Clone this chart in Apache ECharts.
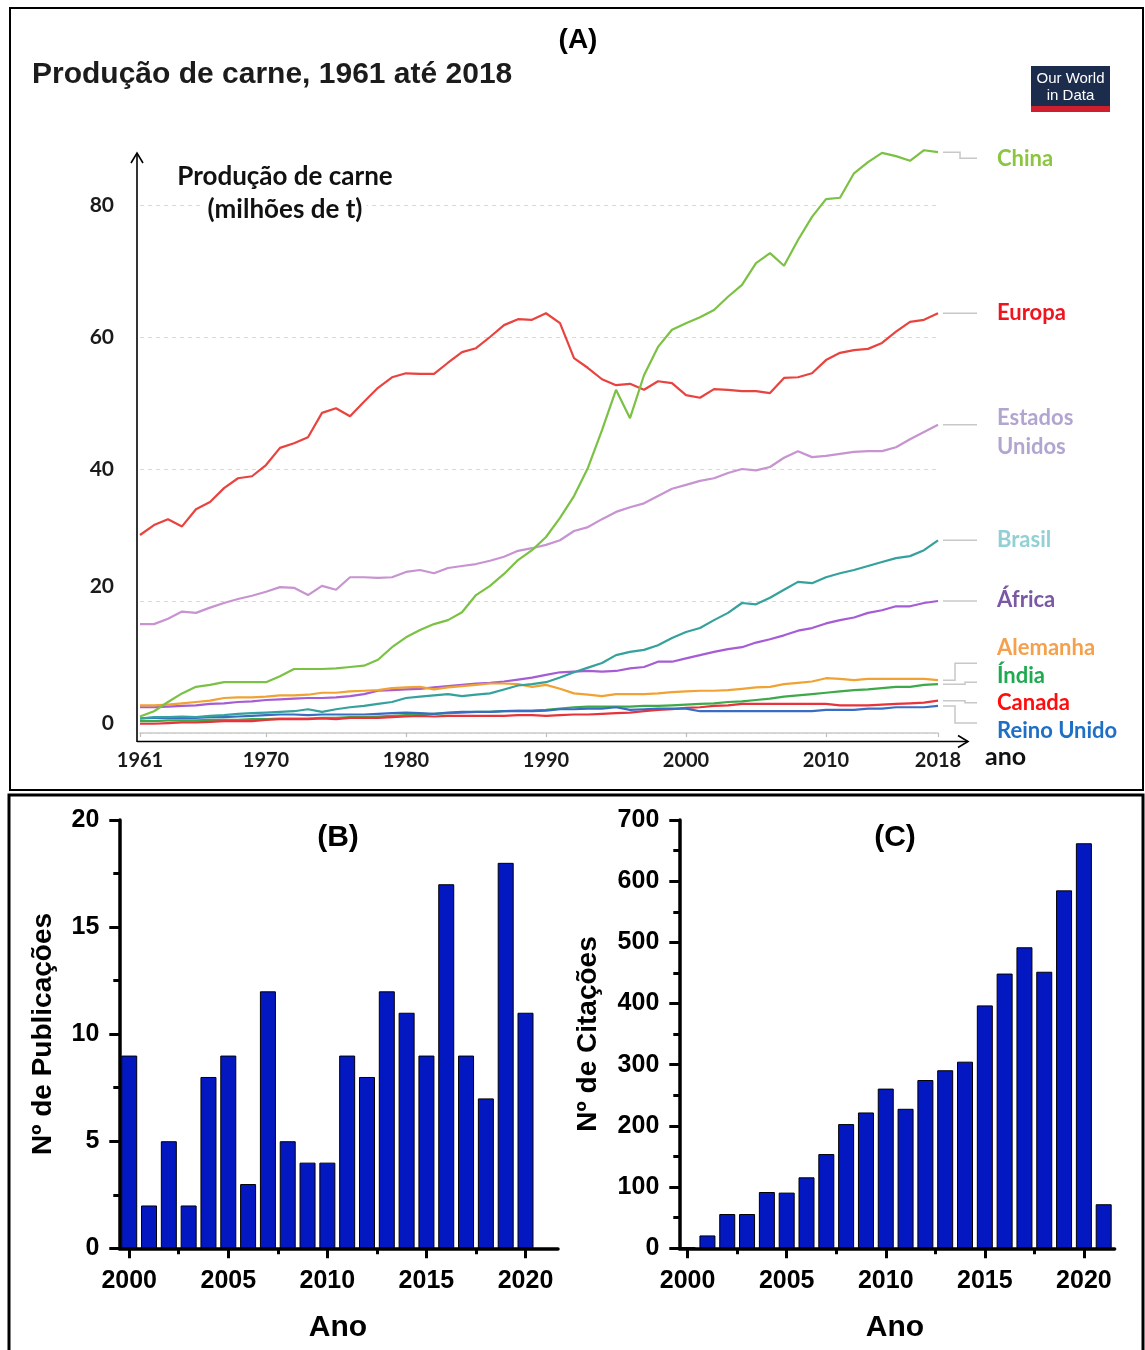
<!DOCTYPE html>
<html>
<head>
<meta charset="utf-8">
<script src="https://cdn.jsdelivr.net/npm/echarts@6/dist/echarts.min.js"></script>
<style>
  html, body { margin: 0; padding: 0; background: #fff; }
  #chart { width: 1145px; height: 1350px; }
</style>
</head>
<body>
<div id="chart"></div>
<script>
// ---------- (A) meat production, million tonnes, 1961-2018 ----------
const years = [];
for (let y = 1961; y <= 2018; y++) years.push(y);

const china = [2.5, 3.3, 4.7, 6.0, 7.0, 7.3, 7.7, 7.7, 7.7, 7.7,
  8.6, 9.7, 9.7, 9.7, 9.8, 10.0, 10.2, 11.1, 13.0, 14.5,
  15.6, 16.5, 17.1, 18.3, 20.9, 22.3, 24.1, 26.2, 27.7, 29.7,
  32.6, 35.9, 40.2, 45.9, 52.0, 47.7, 54.2, 58.5, 61.1, 62.1,
  63.0, 64.1, 66.1, 67.9, 71.2, 72.7, 70.8, 74.7, 78.2, 80.9,
  81.1, 84.8, 86.5, 87.9, 87.4, 86.7, 88.3, 88.0];
const europa = [30.0, 31.5, 32.4, 31.3, 33.9, 35.0, 37.1, 38.6, 38.9, 40.6,
  43.2, 43.9, 44.8, 48.5, 49.2, 48.0, 50.2, 52.3, 53.9, 54.5,
  54.4, 54.4, 56.1, 57.7, 58.3, 60.0, 61.8, 62.7, 62.6, 63.6,
  62.1, 56.8, 55.3, 53.6, 52.7, 52.9, 52.0, 53.3, 53.0, 51.2,
  50.8, 52.1, 52.0, 51.8, 51.8, 51.5, 53.8, 53.9, 54.5, 56.5,
  57.6, 58.0, 58.2, 59.1, 60.8, 62.3, 62.6, 63.6];
const estadosUnidos = [16.5, 16.5, 17.3, 18.4, 18.2, 19.0, 19.7, 20.3, 20.8, 21.4,
  22.1, 22.0, 20.9, 22.3, 21.7, 23.6, 23.6, 23.5, 23.6, 24.4,
  24.7, 24.2, 25.0, 25.3, 25.6, 26.1, 26.7, 27.6, 28.0, 28.5,
  29.2, 30.6, 31.2, 32.4, 33.5, 34.2, 34.8, 35.9, 37.0, 37.6,
  38.2, 38.6, 39.4, 40.0, 39.8, 40.3, 41.7, 42.7, 41.8, 42.0,
  42.3, 42.6, 42.7, 42.7, 43.3, 44.5, 45.6, 46.7];
const brasil = [2.2, 2.4, 2.4, 2.5, 2.4, 2.6, 2.7, 2.9, 3.0, 3.1,
  3.2, 3.3, 3.6, 3.2, 3.6, 3.9, 4.1, 4.4, 4.7, 5.3,
  5.5, 5.7, 5.9, 5.6, 5.8, 6.0, 6.6, 7.2, 7.4, 7.7,
  8.4, 9.2, 9.9, 10.6, 11.8, 12.3, 12.6, 13.3, 14.4, 15.3,
  15.9, 17.1, 18.2, 19.7, 19.5, 20.5, 21.7, 22.9, 22.7, 23.6,
  24.2, 24.7, 25.3, 25.9, 26.5, 26.8, 27.7, 29.2];
const africa = [3.9, 3.9, 4.0, 4.1, 4.2, 4.4, 4.5, 4.7, 4.8, 5.0,
  5.1, 5.2, 5.3, 5.3, 5.4, 5.6, 5.9, 6.4, 6.5, 6.6,
  6.7, 6.9, 7.1, 7.3, 7.5, 7.6, 7.8, 8.1, 8.4, 8.8,
  9.2, 9.3, 9.4, 9.3, 9.4, 9.8, 10.0, 10.8, 10.8, 11.3,
  11.8, 12.3, 12.7, 13.0, 13.7, 14.2, 14.8, 15.5, 15.9, 16.6,
  17.1, 17.5, 18.2, 18.6, 19.2, 19.2, 19.7, 20.0];
const alemanha = [4.2, 4.2, 4.3, 4.5, 4.7, 4.9, 5.3, 5.4, 5.4, 5.5,
  5.7, 5.7, 5.8, 6.1, 6.1, 6.3, 6.4, 6.5, 6.8, 6.9,
  7.0, 6.6, 6.9, 7.1, 7.3, 7.5, 7.5, 7.4, 7.0, 7.3,
  6.7, 6.0, 5.8, 5.6, 5.9, 5.9, 5.9, 6.0, 6.2, 6.3,
  6.4, 6.4, 6.5, 6.7, 6.9, 7.0, 7.4, 7.6, 7.8, 8.3,
  8.2, 8.0, 8.2, 8.2, 8.2, 8.2, 8.2, 8.0];
const india = [1.8, 1.8, 1.9, 1.9, 1.9, 2.0, 2.0, 2.0, 2.1, 2.1,
  2.2, 2.2, 2.2, 2.3, 2.3, 2.4, 2.4, 2.5, 2.6, 2.7,
  2.8, 2.9, 3.0, 3.1, 3.2, 3.2, 3.3, 3.4, 3.4, 3.5,
  3.7, 3.9, 4.0, 4.0, 4.0, 4.0, 4.1, 4.1, 4.2, 4.3,
  4.4, 4.5, 4.7, 4.8, 5.0, 5.2, 5.5, 5.7, 5.9, 6.1,
  6.3, 6.5, 6.6, 6.8, 7.0, 7.0, 7.3, 7.4];
const canada = [1.4, 1.4, 1.5, 1.6, 1.6, 1.7, 1.8, 1.8, 1.8, 2.0,
  2.1, 2.1, 2.1, 2.2, 2.1, 2.3, 2.3, 2.3, 2.4, 2.5,
  2.6, 2.5, 2.6, 2.6, 2.6, 2.6, 2.6, 2.7, 2.7, 2.6,
  2.7, 2.8, 2.8, 2.9, 3.0, 3.1, 3.3, 3.5, 3.6, 3.8,
  3.9, 4.1, 4.2, 4.4, 4.4, 4.4, 4.4, 4.4, 4.4, 4.4,
  4.2, 4.2, 4.2, 4.3, 4.4, 4.5, 4.6, 4.9];
const reinoUnido = [2.2, 2.3, 2.3, 2.3, 2.3, 2.4, 2.4, 2.5, 2.6, 2.7,
  2.8, 2.8, 2.7, 2.8, 2.8, 2.8, 2.8, 2.9, 3.0, 3.1,
  3.0, 2.9, 3.1, 3.2, 3.2, 3.2, 3.3, 3.3, 3.3, 3.4,
  3.6, 3.6, 3.7, 3.7, 3.9, 3.5, 3.6, 3.7, 3.7, 3.7,
  3.3, 3.3, 3.3, 3.3, 3.3, 3.3, 3.3, 3.3, 3.3, 3.5,
  3.5, 3.5, 3.7, 3.7, 3.9, 3.9, 3.9, 4.1];

const yearTicksA = [1961, 1970, 1980, 1990, 2000, 2010, 2018];

// ---------- (B) publications per year ----------
const pubYears = [2000, 2001, 2002, 2003, 2004, 2005, 2006, 2007, 2008, 2009, 2010,
  2011, 2012, 2013, 2014, 2015, 2016, 2017, 2018, 2019, 2020];
const publicacoes = [9, 2, 5, 2, 8, 9, 3, 12, 5, 4, 4, 9, 8, 12, 11, 9, 17, 9, 7, 18, 11];

// ---------- (C) citations per year ----------
const citYears = [2000, 2001, 2002, 2003, 2004, 2005, 2006, 2007, 2008, 2009, 2010,
  2011, 2012, 2013, 2014, 2015, 2016, 2017, 2018, 2019, 2020, 2021];
const citacoes = [2, 21, 56, 56, 92, 91, 116, 154, 203, 222, 261, 228, 275, 291, 305,
  397, 449, 492, 452, 585, 662, 72];

const yearTicksBC = [2000, 2005, 2010, 2015, 2020];
const yearMinorBC = [2002.5, 2007.5, 2012.5, 2017.5];

// line styling and end-label layout for panel A
const lineDefs = [
  { label: 'África', values: africa, line: '#a55cd4', text: '#7a58a6', bend: 22, lead: 0, dy: -1 },
  { label: 'Alemanha', values: alemanha, line: '#f0a232', text: '#f5a04c', bend: 17, lead: -17, dy: -32 },
  { label: 'Índia', values: india, line: '#3da94a', text: '#1eaa50', bend: 27, lead: -2, dy: -8 },
  { label: 'Canada', values: canada, line: '#e8333b', text: '#ff0d0d', bend: 27, lead: 2, dy: 2 },
  { label: 'Reino Unido', values: reinoUnido, line: '#3a6cc4', text: '#1f6fc5', bend: 17, lead: 17, dy: 25 },
  { label: 'Brasil', values: brasil, line: '#35a19c', text: '#92d0d6', bend: 22, lead: 0, dy: 0 },
  { label: 'Estados\nUnidos', values: estadosUnidos, line: '#c793d0', text: '#b2a5cf', bend: 22, lead: 0, dy: 8 },
  { label: 'Europa', values: europa, line: '#e8433e', text: '#f0141e', bend: 22, lead: 0, dy: 0 },
  { label: 'China', values: china, line: '#7bc144', text: '#8cc640', bend: 22, lead: 6, dy: 7 }
];

const gothic = 'Lato, "DejaVu Sans", sans-serif';
const arial = '"Liberation Sans", Arial, sans-serif';
const plainYear = v => String(v);

const lineSeries = lineDefs.map(d => ({
  type: 'line',
  xAxisIndex: 0, yAxisIndex: 0,
  data: years.map((y, i) => [y, d.values[i]]),
  showSymbol: false,
  clip: false,
  silent: true,
  lineStyle: { color: d.line, width: 2.2 },
  itemStyle: { color: d.line }
}));

const leaderSeries = {
  type: 'custom',
  coordinateSystem: 'cartesian2d',
  xAxisIndex: 0, yAxisIndex: 0,
  clip: false,
  silent: true,
  data: lineDefs.map((d, i) => [years[years.length - 1], d.values[d.values.length - 1], i]),
  renderItem: function (params, api) {
    const d = lineDefs[api.value(2)];
    const p = api.coord([api.value(0), api.value(1)]);
    const x0 = p[0], y0 = p[1];
    return {
      type: 'group',
      children: [
        {
          type: 'polyline',
          shape: { points: [[x0 + 5, y0], [x0 + d.bend, y0], [x0 + d.bend, y0 + d.lead], [x0 + 39, y0 + d.lead]] },
          style: { stroke: '#c8c8c8', lineWidth: 1.5, fill: null }
        },
        {
          type: 'text',
          x: x0 + 59, y: y0 + d.dy,
          style: {
            text: d.label, fill: d.text, font: 'bold 22px ' + gothic,
            align: 'left', verticalAlign: 'middle', lineHeight: 29
          }
        }
      ]
    };
  }
};

const barStyle = { color: '#0418c2', borderColor: '#000', borderWidth: 1 };

const bcValueX = (min, max, grid) => ({
  type: 'value', gridIndex: grid, position: 'bottom', min: min, max: max,
  axisLine: { show: true, onZero: false, lineStyle: { color: '#000', width: 3.5 } },
  axisTick: { show: true, customValues: yearTicksBC, length: 10, lineStyle: { color: '#000', width: 3 } },
  axisLabel: { customValues: yearTicksBC, formatter: plainYear, margin: 20, color: '#000', fontFamily: arial, fontWeight: 'bold', fontSize: 25 },
  splitLine: { show: false }
});
const bcMinorX = (min, max, grid) => ({
  type: 'value', gridIndex: grid, position: 'bottom', min: min, max: max,
  axisLine: { show: false, onZero: false },
  axisTick: { show: true, customValues: yearMinorBC, length: 6, lineStyle: { color: '#000', width: 3 } },
  axisLabel: { show: false },
  splitLine: { show: false }
});
const bcValueY = (max, interval, grid) => ({
  type: 'value', gridIndex: grid, min: 0, max: max, interval: interval,
  axisLine: { show: true, onZero: false, lineStyle: { color: '#000', width: 3.5 } },
  axisTick: { show: true, length: 10, lineStyle: { color: '#000', width: 3 } },
  minorTick: { show: true, splitNumber: 2, length: 6, lineStyle: { color: '#000', width: 3 } },
  axisLabel: { margin: 20, color: '#000', fontFamily: arial, fontWeight: 'bold', fontSize: 25 },
  splitLine: { show: false },
  minorSplitLine: { show: false }
});

const txt = (x, y, text, font, fill, align, extra) => Object.assign({
  type: 'text', x: x, y: y, silent: true,
  style: { text: text, font: font, fill: fill || '#000', align: align || 'center', verticalAlign: 'middle' }
}, extra || {});

const option = {
  animation: false,
  backgroundColor: '#fff',
  grid: [
    { left: 140, top: 205, width: 798, height: 528 },
    { left: 119.3, top: 820, width: 438.7, height: 428.3 },
    { left: 679.3, top: 820, width: 435.3, height: 428.3 }
  ],
  xAxis: [
    {
      type: 'value', gridIndex: 0, min: 1961, max: 2018,
      axisLine: { show: true, lineStyle: { color: '#cccccc', width: 1.5 } },
      axisTick: { show: true, customValues: yearTicksA, length: 4, lineStyle: { color: '#bdbdbd', width: 1.2 } },
      axisLabel: { customValues: yearTicksA, formatter: plainYear, margin: 18, color: '#1a1a1a', fontFamily: gothic, fontWeight: 'bold', fontSize: 20 },
      splitLine: { show: false }
    },
    bcValueX(1999.5, 2021.64, 1),
    bcMinorX(1999.5, 2021.64, 1),
    bcValueX(1999.58, 2021.55, 2),
    bcMinorX(1999.58, 2021.55, 2)
  ],
  yAxis: [
    {
      type: 'value', gridIndex: 0, min: 0, max: 80, interval: 20,
      axisLine: { show: false }, axisTick: { show: false },
      splitLine: { lineStyle: { color: '#d9d9d9', type: [4, 4], width: 1 } },
      axisLabel: {
        margin: 26, color: '#1a1a1a',
        formatter: v => v === 20 ? '{up|20}' : (v === 0 ? '{low|0}' : '{n|' + v + '}'),
        rich: {
          n: { fontFamily: gothic, fontWeight: 'bold', fontSize: 21, color: '#1a1a1a' },
          up: { fontFamily: gothic, fontWeight: 'bold', fontSize: 21, color: '#1a1a1a', padding: [0, 0, 30, 0] },
          low: { fontFamily: gothic, fontWeight: 'bold', fontSize: 21, color: '#1a1a1a', padding: [0, 0, 20, 0] }
        }
      }
    },
    bcValueY(20, 5, 1),
    bcValueY(700, 100, 2)
  ],
  series: lineSeries.concat([
    leaderSeries,
    {
      type: 'bar', xAxisIndex: 1, yAxisIndex: 1, barWidth: 16, silent: true,
      data: pubYears.map((y, i) => [y, publicacoes[i]]),
      itemStyle: barStyle
    },
    {
      type: 'bar', xAxisIndex: 3, yAxisIndex: 2, barWidth: 16, silent: true,
      data: citYears.map((y, i) => [y, citacoes[i]]),
      itemStyle: barStyle
    }
  ]),
  graphic: [
    // panel frames
    { type: 'rect', silent: true, shape: { x: 10, y: 8, width: 1133, height: 782 }, style: { fill: null, stroke: '#000', lineWidth: 2 } },
    { type: 'rect', silent: true, shape: { x: 9, y: 795, width: 1134, height: 570 }, style: { fill: null, stroke: '#000', lineWidth: 3 } },

    // panel A header
    txt(578, 40, '(A)', 'bold 28px ' + arial),
    txt(32, 75, 'Produção de carne, 1961 até 2018', 'bold 30px ' + arial, '#1c1c1c', 'left'),
    { type: 'rect', silent: true, shape: { x: 1031, y: 66, width: 79, height: 46 }, style: { fill: '#1b2c4d' } },
    { type: 'rect', silent: true, shape: { x: 1031, y: 106, width: 79, height: 6 }, style: { fill: '#cf1f2f' } },
    txt(1070.5, 79, 'Our World', '15px ' + arial, '#fff'),
    txt(1070.5, 96, 'in Data', '15px ' + arial, '#fff'),

    // panel A axis title (on a white box over the grid) and arrow axes
    txt(285, 177, 'Produção de carne', 'bold 26px ' + gothic, '#111', 'center', { z: 10 }),
    { type: 'text', x: 285, y: 210, z: 10, silent: true,
      style: { text: '(milhões de t)', font: 'bold 26px ' + gothic, fill: '#111', align: 'center', verticalAlign: 'middle', backgroundColor: '#fff', padding: [0, 4] } },
    { type: 'polyline', silent: true, shape: { points: [[137, 742], [137, 153]] }, style: { stroke: '#000', lineWidth: 1.6, fill: null } },
    { type: 'polyline', silent: true, shape: { points: [[131, 163], [137, 153], [143, 163]] }, style: { stroke: '#000', lineWidth: 1.6, fill: null } },
    { type: 'polyline', silent: true, shape: { points: [[137, 741.5], [968, 741.5]] }, style: { stroke: '#000', lineWidth: 1.6, fill: null } },
    { type: 'polyline', silent: true, shape: { points: [[958, 735.5], [968, 741.5], [958, 747.5]] }, style: { stroke: '#000', lineWidth: 1.6, fill: null } },
    txt(985, 757, 'ano', 'bold 25px ' + gothic, '#111', 'left'),

    // panels B and C titles
    txt(338, 838, '(B)', 'bold 30px ' + arial),
    txt(895, 838, '(C)', 'bold 30px ' + arial),
    txt(338, 1328, 'Ano', 'bold 30px ' + arial),
    txt(895, 1328, 'Ano', 'bold 30px ' + arial),
    txt(43, 1034, 'Nº de Publicações', 'bold 28px ' + arial, '#000', 'center', { rotation: Math.PI / 2 }),
    txt(588, 1034, 'Nº de Citações', 'bold 28px ' + arial, '#000', 'center', { rotation: Math.PI / 2 })
  ]
};

const chart = echarts.init(document.getElementById('chart'), null, { renderer: 'canvas' });
chart.setOption(option);
</script>
</body>
</html>
